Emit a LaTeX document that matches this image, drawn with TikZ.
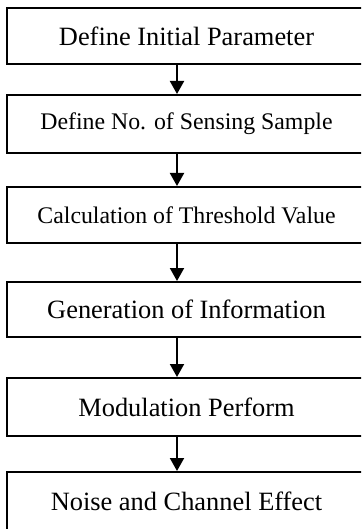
\documentclass[tikz,border=0pt]{standalone}
\usepackage{fontspec}
\setmainfont{Liberation Serif}
\usetikzlibrary{arrows.meta}
\tikzset{
    blockbox/.style={draw, line width=1pt, inner sep=0pt, minimum width=179.5pt, align=center},
    bigtext/.style={font=\fontsize{13.2}{15}\selectfont},
    smalltext/.style={font=\fontsize{11.9}{14}\selectfont},
    flowarrow/.style={line width=1pt, -{Triangle[width=7pt,length=6.5pt]}}
}
\begin{document}
\begin{tikzpicture}[x=0.5pt, y=-0.5pt]
    \useasboundingbox (0,0) rectangle (361,529);
    \clip (0,0) rectangle (361,529);
    % Blocks
    \node[blockbox, bigtext, minimum height=28pt] (init) at (186.5, 36) {Define Initial Parameter};
    \node[blockbox, smalltext, minimum height=29pt] (sample) at (186.5, 124) {Define No. of Sensing Sample};
    \node[blockbox, smalltext, minimum height=28pt] (thresh) at (186.5, 215) {Calculation of Threshold Value};
    \node[blockbox, bigtext, minimum height=27.5pt] (info) at (186.5, 309.5) {Generation of Information};
    \node[blockbox, bigtext, minimum height=29pt] (modul) at (186.5, 407) {Modulation Perform};
    \node[blockbox, bigtext, minimum height=29pt] (noise) at (186.5, 501) {Noise and Channel Effect};

    % Arrows
    \coordinate (ax) at (177, 0);
    \draw[flowarrow] (init.south -| ax) -- (sample.north -| ax);
    \draw[flowarrow] (sample.south -| ax) -- (thresh.north -| ax);
    \draw[flowarrow] (thresh.south -| ax) -- (info.north -| ax);
    \draw[flowarrow] (info.south -| ax) -- (modul.north -| ax);
    \draw[flowarrow] (modul.south -| ax) -- (noise.north -| ax);
\end{tikzpicture}
\end{document}
